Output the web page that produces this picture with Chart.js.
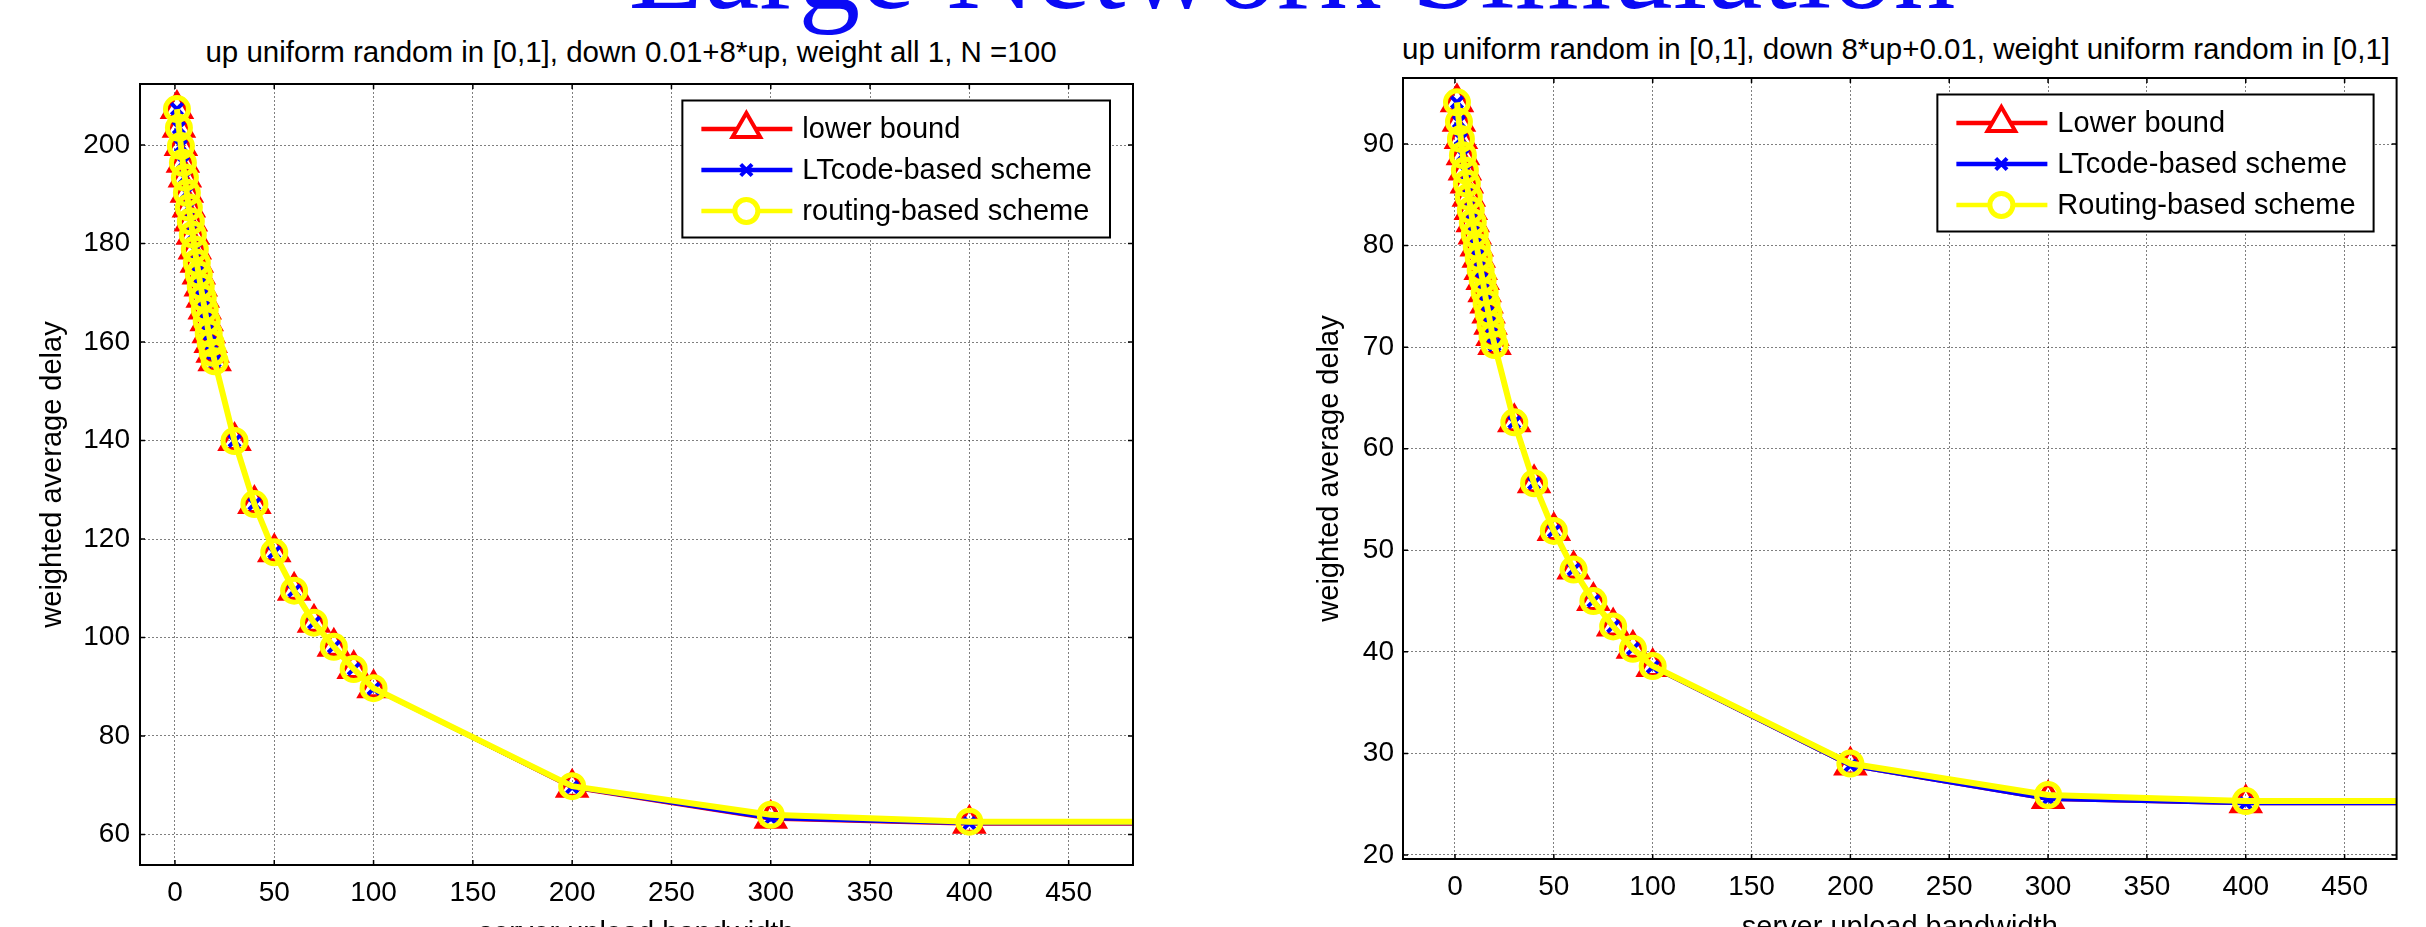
<!DOCTYPE html>
<html>
<head>
<meta charset="utf-8">
<title>Large Network Simulation</title>
<script src="https://cdn.jsdelivr.net/npm/chart.js@4.4.1/dist/chart.umd.min.js"></script>
<style>
  html, body { margin: 0; padding: 0; background: #fff; }
  #page { position: relative; width: 2426px; height: 927px; overflow: hidden; background: #fff; }
  .bigTitle {
    position: absolute; left: 1292px; top: -95px; transform: translateX(-50%);
    font-family: "Liberation Serif", "Times New Roman", serif; font-size: 124px; line-height: 124px;
    color: #0a0af5; white-space: nowrap;
  }
  .subTitle {
    position: absolute; transform: translateX(-50%);
    font-family: "Liberation Sans", Arial, sans-serif; font-size: 29.5px; line-height: 29.5px;
    color: #000; white-space: nowrap;
  }
  canvas { position: absolute; top: 0; }
</style>
</head>
<body>
<div id="page">
  <div class="bigTitle">Large Network Simulation</div>
  <div class="subTitle" style="left:631px; top:37px;">up uniform random in [0,1], down 0.01+8*up, weight all 1, N =100</div>
  <div class="subTitle" style="left:1896px; top:34px;">up uniform random in [0,1], down 8*up+0.01, weight uniform random in [0,1]</div>
  <canvas id="chartLeft" width="1180" height="960" style="left:0px;"></canvas>
  <canvas id="chartRight" width="1146" height="960" style="left:1280px;"></canvas>
</div>
<script>
// server upload bandwidth
const bandwidth = [1, 2, 3, 4, 5, 6, 7, 8, 9, 10, 11, 12, 13, 14, 15, 16, 17, 18, 19, 20,
  30, 40, 50, 60, 70, 80, 90, 100, 200, 300, 400, 500];

// left plot: weight all 1, N = 100
const lowerA = [207.3, 203.5, 199.8, 196.4, 193.4, 190.3, 187.3, 184.5, 181.8, 178.8,
  176.1, 173.7, 171.3, 169.0, 166.6, 164.2, 161.8, 159.8, 157.8, 156.1,
  139.9, 127.1, 117.3, 109.5, 103.0, 98.1, 93.6, 89.7, 69.5, 63.2, 62.2, 62.2];
const ltcodeA = [207.3, 203.5, 199.8, 196.4, 193.4, 190.3, 187.3, 184.5, 181.8, 178.8,
  176.1, 173.7, 171.3, 169.0, 166.6, 164.2, 161.8, 159.8, 157.8, 156.1,
  139.9, 127.1, 117.3, 109.5, 103.0, 98.1, 93.6, 89.6, 69.6, 63.3, 62.3, 62.3];
const routingA = [207.3, 203.5, 199.8, 196.4, 193.4, 190.3, 187.3, 184.5, 181.8, 178.8,
  176.1, 173.7, 171.3, 169.0, 166.6, 164.2, 161.8, 159.8, 157.8, 156.1,
  139.9, 127.1, 117.3, 109.5, 103.0, 98.1, 93.6, 89.7, 69.8, 64.0, 62.6, 62.6];

// right plot: weight uniform random in [0,1]
const lowerB = [94.1, 92.2, 90.5, 88.9, 87.4, 86.1, 84.8, 83.5, 82.3, 81.1,
  79.9, 78.8, 77.6, 76.6, 75.4, 74.3, 73.3, 72.2, 71.1, 70.2,
  62.6, 56.6, 51.9, 48.1, 45.0, 42.5, 40.3, 38.5, 28.8, 25.5, 25.1, 25.1];
const ltcodeB = [94.1, 92.2, 90.5, 88.9, 87.4, 86.1, 84.8, 83.5, 82.3, 81.1,
  79.9, 78.8, 77.6, 76.6, 75.4, 74.3, 73.3, 72.2, 71.1, 70.2,
  62.6, 56.6, 51.9, 48.1, 45.0, 42.5, 40.3, 38.5, 28.8, 25.5, 25.1, 25.1];
const routingB = [94.1, 92.2, 90.5, 88.9, 87.4, 86.1, 84.8, 83.5, 82.3, 81.1,
  79.9, 78.8, 77.6, 76.6, 75.4, 74.3, 73.3, 72.2, 71.1, 70.2,
  62.6, 56.6, 51.9, 48.1, 45.0, 42.5, 40.3, 38.6, 29.0, 25.9, 25.3, 25.3];

// tick labels
const xTicks = [0, 50, 100, 150, 200, 250, 300, 350, 400, 450];
const yTicksA = [60, 80, 100, 120, 140, 160, 180, 200];
const yTicksB = [20, 30, 40, 50, 60, 70, 80, 90];

const labelsA = ["lower bound", "LTcode-based scheme", "routing-based scheme"];
const labelsB = ["Lower bound", "LTcode-based scheme", "Routing-based scheme"];

const FONT = '"Liberation Sans", Arial, sans-serif';

function toXY(ys) {
  return ys.map(function (y, i) { return { x: bandwidth[i], y: y }; });
}

function drawMarker(ctx, style, x, y, r) {
  ctx.beginPath();
  if (style === "triangle") {
    ctx.moveTo(x, y - r);
    ctx.lineTo(x + 0.866 * r, y + 0.5 * r);
    ctx.lineTo(x - 0.866 * r, y + 0.5 * r);
    ctx.closePath();
  } else if (style === "crossRot") {
    const d = r * 0.7071;
    ctx.moveTo(x - d, y - d); ctx.lineTo(x + d, y + d);
    ctx.moveTo(x - d, y + d); ctx.lineTo(x + d, y - d);
  } else {
    ctx.arc(x, y, r, 0, Math.PI * 2);
  }
  ctx.stroke();
}

// matlab style box + inner tick marks
const framePlugin = {
  id: "frame",
  afterDraw(chart) {
    const ctx = chart.ctx;
    const a = chart.chartArea;
    const sx = chart.scales.x, sy = chart.scales.y;
    ctx.save();
    ctx.strokeStyle = "#000";
    ctx.lineWidth = 1.5;
    ctx.beginPath();
    sx.ticks.forEach(function (t) {
      const px = sx.getPixelForValue(t.value);
      ctx.moveTo(px, a.bottom); ctx.lineTo(px, a.bottom - 5);
      ctx.moveTo(px, a.top); ctx.lineTo(px, a.top + 5);
    });
    sy.ticks.forEach(function (t) {
      const py = sy.getPixelForValue(t.value);
      ctx.moveTo(a.left, py); ctx.lineTo(a.left + 5, py);
      ctx.moveTo(a.right, py); ctx.lineTo(a.right - 5, py);
    });
    ctx.stroke();
    ctx.lineWidth = 2;
    ctx.strokeRect(a.left, a.top, a.right - a.left, a.bottom - a.top);
    ctx.restore();
  }
};

// legend box with line + marker samples
const boxLegendPlugin = {
  id: "boxLegend",
  afterDraw(chart) {
    const ctx = chart.ctx;
    const a = chart.chartArea;
    const sets = chart.data.datasets;
    ctx.save();
    ctx.font = "29px " + FONT;
    let maxW = 0;
    sets.forEach(function (ds) { maxW = Math.max(maxW, ctx.measureText(ds.label).width); });
    const w = 120 + maxW + 18;
    const h = 137;
    const left = a.right - 23 - w;
    const top = a.top + 16.5;
    ctx.fillStyle = "#fff";
    ctx.fillRect(left, top, w, h);
    ctx.strokeStyle = "#000";
    ctx.lineWidth = 2;
    ctx.strokeRect(left, top, w, h);
    sets.forEach(function (ds, i) {
      const y = top + 28.5 + i * 41;
      ctx.strokeStyle = ds.borderColor;
      ctx.lineWidth = 4.5;
      ctx.beginPath();
      ctx.moveTo(left + 19, y); ctx.lineTo(left + 110, y);
      ctx.stroke();
      ctx.fillStyle = "#fff";
      ctx.lineWidth = ds.pointBorderWidth;
      if (ds.pointStyle === "triangle") {
        ctx.beginPath();
        ctx.moveTo(left + 64, y - 16); ctx.lineTo(left + 64 + 13.9, y + 8); ctx.lineTo(left + 64 - 13.9, y + 8);
        ctx.closePath(); ctx.fill();
      }
      if (ds.pointStyle === "circle") {
        ctx.beginPath(); ctx.arc(left + 64, y, ds.pointRadius, 0, Math.PI * 2); ctx.fill();
      }
      drawMarker(ctx, ds.pointStyle, left + 64, y, ds.pointRadius);
      ctx.fillStyle = "#000";
      ctx.textBaseline = "middle";
      ctx.textAlign = "left";
      ctx.fillText(ds.label, left + 120, y + 1);
    });
    ctx.restore();
  }
};

function makeDatasets(labels, lower, ltcode, routing) {
  return [
    {
      label: labels[0], data: toXY(lower), order: 2,
      borderColor: "#ff0000", borderWidth: 4,
      pointStyle: "triangle", pointRadius: 16, pointBorderWidth: 4,
      pointBorderColor: "#ff0000", pointBackgroundColor: "rgba(0,0,0,0)"
    },
    {
      label: labels[1], data: toXY(ltcode), order: 1,
      borderColor: "#0000ff", borderWidth: 4,
      pointStyle: "crossRot", pointRadius: 8, pointBorderWidth: 4,
      pointBorderColor: "#0000ff", pointBackgroundColor: "rgba(0,0,0,0)"
    },
    {
      label: labels[2], data: toXY(routing), order: 0,
      borderColor: "#ffff00", borderWidth: 6,
      pointStyle: "circle", pointRadius: 11.5, pointBorderWidth: 5,
      pointBorderColor: "#ffff00", pointBackgroundColor: "rgba(0,0,0,0)"
    }
  ];
}

function makeChart(id, cfg) {
  const ctx = document.getElementById(id).getContext("2d");
  return new Chart(ctx, {
    type: "line",
    data: { datasets: makeDatasets(cfg.labels, cfg.lower, cfg.ltcode, cfg.routing) },
    options: {
      responsive: false,
      animation: false,
      events: [],
      layout: { padding: cfg.padding },
      plugins: { legend: { display: false }, tooltip: { enabled: false }, title: { display: false } },
      elements: { line: { tension: 0 } },
      scales: {
        x: {
          type: "linear", min: cfg.xMin, max: cfg.xMax,
          afterBuildTicks: function (s) { s.ticks = xTicks.map(function (v) { return { value: v }; }); },
          afterFit: function (s) { s.height = 95; },
          grid: { color: "rgba(0,0,0,0.5)", lineWidth: 1, drawTicks: false },
          border: { display: false, dash: [2, 2] },
          ticks: { color: "#000", font: { family: FONT, size: 28 }, padding: 11, maxRotation: 0 },
          title: { display: true, text: "server upload bandwidth", color: "#000",
            font: { family: FONT, size: 29 }, padding: { top: 0, bottom: 8.6 } }
        },
        y: {
          type: "linear", min: cfg.yMin, max: cfg.yMax,
          afterBuildTicks: function (s) { s.ticks = cfg.yTicks.map(function (v) { return { value: v }; }); },
          afterFit: function (s) { s.width = cfg.yWidth; },
          grid: { color: "rgba(0,0,0,0.5)", lineWidth: 1, drawTicks: false },
          border: { display: false, dash: [2, 2] },
          ticks: { color: "#000", font: { family: FONT, size: 28 }, padding: cfg.yPad },
          title: { display: true, text: "weighted average delay", color: "#000",
            font: { family: FONT, size: 29 }, padding: { top: cfg.yTitlePad, bottom: 0 } }
        }
      }
    },
    plugins: [framePlugin, boxLegendPlugin]
  });
}

makeChart("chartLeft", {
  labels: labelsA, lower: lowerA, ltcode: ltcodeA, routing: routingA,
  yTicks: yTicksA, xMin: -17.6, xMax: 482.4, yMin: 53.8, yMax: 212.4,
  padding: { top: 84, right: 47, left: 0, bottom: 0 },
  yWidth: 140, yPad: 10, yTitlePad: 35.6
});

makeChart("chartRight", {
  labels: labelsB, lower: lowerB, ltcode: ltcodeB, routing: routingB,
  yTicks: yTicksB, xMin: -26.3, xMax: 476.3, yMin: 19.6, yMax: 96.5,
  padding: { top: 78, right: 29.4, left: 0, bottom: 6 },
  yWidth: 123, yPad: 9, yTitlePad: 32.6
});
</script>
</body>
</html>
